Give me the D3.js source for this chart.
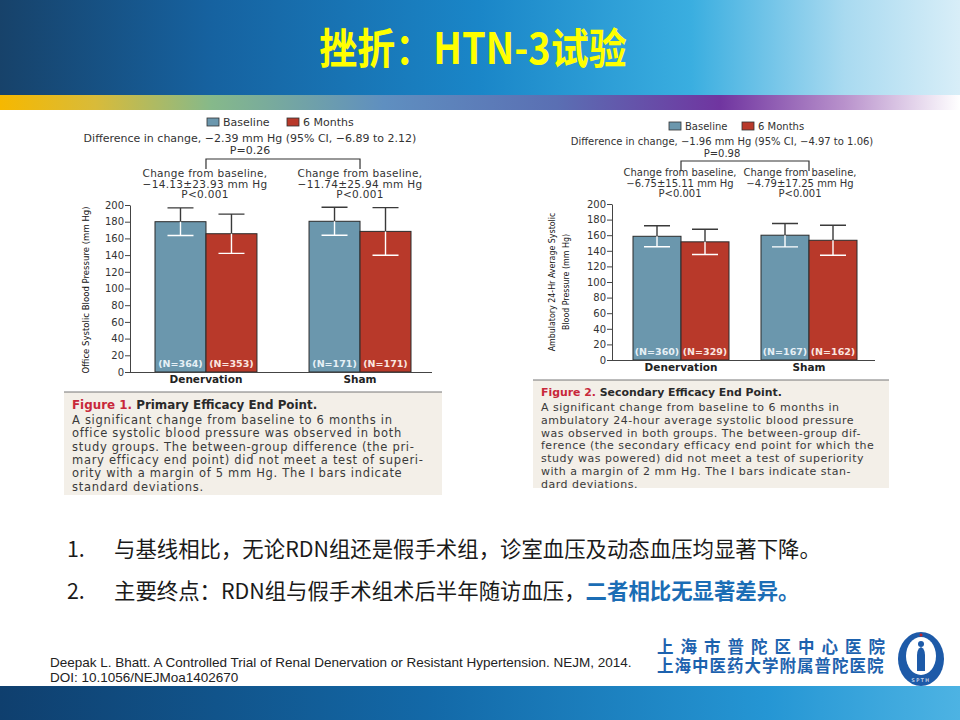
<!DOCTYPE html>
<html>
<head>
<meta charset="utf-8">
<script src="https://cdn.jsdelivr.net/npm/d3@7"></script>
<style>
  html, body { margin: 0; padding: 0; background: #fff; }
  svg { display: block; }
</style>
</head>
<body>
<div id="slide"></div>
<script>
// ---- data ----
const groups = ["Denervation", "Sham"];
const seriesNames = ["Baseline", "6 Months"];
const seriesColors = ["#6b97ad", "#b8392a"];
const yTicks = [0, 20, 40, 60, 80, 100, 120, 140, 160, 180, 200];

// Figure 1: office systolic BP (mm Hg)
const officeBaseline = [180.0, 180.5];
const officeBaselineSD = [16.5, 16.8];
const officeMonth6 = [165.6, 168.4];
const officeMonth6SD = [23.5, 28.5];
const officeN = [["(N=364)", "(N=353)"], ["(N=171)", "(N=171)"]];

// Figure 2: ambulatory 24-hr systolic BP (mm Hg)
const ambBaseline = [158.6, 160.0];
const ambBaselineSD = [13.5, 15.0];
const ambMonth6 = [151.5, 153.5];
const ambMonth6SD = [16.2, 19.3];
const ambN = [["(N=360)", "(N=329)"], ["(N=167)", "(N=162)"]];

const W = 960, H = 720;
const svg = d3.select("#slide").append("svg")
    .attr("width", W)
    .attr("height", H)
    .attr("viewBox", `0 0 ${W} ${H}`);

const defs = svg.append("defs");

// header gradient
const hg = defs.append("linearGradient").attr("id", "hdr").attr("x1", 0).attr("x2", 1).attr("y1", 0).attr("y2", 0);
[["0%", "#17426a"], ["22%", "#1662a0"], ["50%", "#1a86c8"], ["72%", "#3aaee0"], ["88%", "#a9daf0"], ["100%", "#d8eef8"]]
    .forEach(s => hg.append("stop").attr("offset", s[0]).attr("stop-color", s[1]));

const bg = defs.append("linearGradient").attr("id", "band").attr("x1", 0).attr("x2", 1).attr("y1", 0).attr("y2", 0);
[["0%", "#f6b800"], ["10%", "#d8bb3a"], ["22%", "#86b98a"], ["40%", "#5f8fc0"], ["58%", "#5a6fb3"], ["75%", "#7035a0"], ["88%", "#b992cc"], ["100%", "#ffffff"]]
    .forEach(s => bg.append("stop").attr("offset", s[0]).attr("stop-color", s[1]));

const fg = defs.append("linearGradient").attr("id", "ftr").attr("x1", 0).attr("x2", 1).attr("y1", 0).attr("y2", 0);
[["0%", "#0f3f6e"], ["45%", "#1369a8"], ["80%", "#2596d4"], ["100%", "#4db3e3"]]
    .forEach(s => fg.append("stop").attr("offset", s[0]).attr("stop-color", s[1]));

svg.append("rect").attr("x", 0).attr("y", 0).attr("width", W).attr("height", 96).attr("fill", "url(#hdr)");
svg.append("rect").attr("x", 0).attr("y", 95).attr("width", W).attr("height", 15).attr("fill", "url(#band)");
svg.append("rect").attr("x", 0).attr("y", 686).attr("width", W).attr("height", 34).attr("fill", "url(#ftr)");

svg.append("text")
    .attr("transform", "translate(473,64) scale(1,1.12)")
    .attr("text-anchor", "middle")
    .attr("font-family", "'Noto Sans CJK SC', sans-serif")
    .attr("font-weight", 700)
    .attr("font-size", 38)
    .attr("fill", "#ffff00")
    .text("挫折：HTN-3试验");

const figFont = "'DejaVu Sans', sans-serif";
const condFont = "'DejaVu Sans Condensed', 'Liberation Sans Narrow', sans-serif";

function drawPanel(cfg) {
    const g = svg.append("g");
    const y = d3.scaleLinear().domain([0, 200]).range([cfg.y0, cfg.y200]);
    const x0 = d3.scaleBand().domain(groups).range(cfg.barRange).paddingInner(cfg.padInner);
    const x1 = d3.scaleBand().domain(seriesNames).range([0, x0.bandwidth()]);

    // caption box
    g.append("rect").attr("x", cfg.capX).attr("y", cfg.capY).attr("width", cfg.capW).attr("height", cfg.capH).attr("fill", "#f3efe8");
    g.append("line").attr("x1", cfg.capX).attr("x2", cfg.capX + cfg.capW).attr("y1", cfg.capY).attr("y2", cfg.capY)
        .attr("stroke", "#777").attr("stroke-width", 1);

    // legend
    const lg = g.append("g").attr("font-family", figFont).attr("font-size", cfg.fs).attr("fill", "#333");
    seriesNames.forEach((s, i) => {
        lg.append("rect").attr("x", cfg.legX[i]).attr("y", cfg.legY - 8).attr("width", 12).attr("height", 8)
            .attr("fill", seriesColors[i]).attr("stroke", "#333").attr("stroke-width", 0.8);
        lg.append("text").attr("x", cfg.legX[i] + 16).attr("y", cfg.legY).text(s);
    });

    // difference text and bracket
    const ann = g.append("g").attr("font-family", figFont).attr("font-size", cfg.fs).attr("fill", "#333").attr("text-anchor", "middle");
    ann.append("text").attr("x", cfg.diffX).attr("y", cfg.diffY).text(cfg.diffText);
    ann.append("text").attr("x", cfg.diffX).attr("y", cfg.diffY + 11.5).text(cfg.diffP);
    const bx = groups.map(d => x0(d) + x0.bandwidth() / 2);
    g.append("path")
        .attr("d", `M${bx[0]},${cfg.brY + 10}V${cfg.brY}H${bx[1]}V${cfg.brY + 10}`)
        .attr("fill", "none").attr("stroke", "#333").attr("stroke-width", 1.2);
    groups.forEach((gr, i) => {
        cfg.changeText[i].forEach((t, j) => {
            ann.append("text").attr("x", cfg.changeX[i]).attr("y", cfg.changeY + j * 10.5)
                .attr("font-size", cfg.chFs).attr("letter-spacing", cfg.chLs).text(t);
        });
    });

    // bars
    const rows = [];
    groups.forEach((gr, i) => {
        seriesNames.forEach((s, j) => {
            rows.push({
                group: gr, series: s, j: j,
                mean: j === 0 ? cfg.base[i] : cfg.m6[i],
                sd: j === 0 ? cfg.baseSD[i] : cfg.m6SD[i],
                n: cfg.n[i][j]
            });
        });
    });

    const bars = g.append("g");
    bars.selectAll("rect").data(rows).enter().append("rect")
        .attr("x", d => x0(d.group) + x1(d.series))
        .attr("y", d => y(d.mean))
        .attr("width", x1.bandwidth())
        .attr("height", d => y(0) - y(d.mean))
        .attr("fill", d => seriesColors[d.j])
        .attr("stroke", "#2b2b2b")
        .attr("stroke-width", 1);

    const eb = g.append("g");
    rows.forEach(d => {
        const cx = x0(d.group) + x1(d.series) + x1.bandwidth() / 2;
        const cw = 13;
        eb.append("path")
            .attr("d", `M${cx},${y(d.mean)}V${y(d.mean + d.sd)}M${cx - cw},${y(d.mean + d.sd)}H${cx + cw}`)
            .attr("stroke", "#3a3a3a").attr("stroke-width", 1.4).attr("fill", "none");
        eb.append("path")
            .attr("d", `M${cx},${y(d.mean)}V${y(d.mean - d.sd)}M${cx - cw},${y(d.mean - d.sd)}H${cx + cw}`)
            .attr("stroke", "#ffffff").attr("stroke-width", 1.4).attr("fill", "none");
        eb.append("text")
            .attr("x", cx).attr("y", y(0) - 5)
            .attr("text-anchor", "middle")
            .attr("font-family", figFont).attr("font-size", 9.5).attr("font-weight", 700)
            .attr("fill", d.j === 0 ? "#e6f0f6" : "#fbe6e0")
            .text(d.n);
    });

    // axes
    const ya = g.append("g").attr("transform", `translate(${cfg.axisX},0)`)
        .call(d3.axisLeft(y).tickValues(yTicks).tickSize(5).tickSizeOuter(0).tickPadding(1));
    ya.select(".domain").attr("stroke", "#444");
    ya.selectAll(".tick line").attr("stroke", "#444");
    ya.selectAll(".tick text").attr("font-family", figFont).attr("font-size", 10).attr("fill", "#333");

    const xa = g.append("g").attr("transform", `translate(0,${cfg.y0})`)
        .call(d3.axisBottom(x0).tickSize(0).tickPadding(4));
    xa.select(".domain").attr("d", `M${cfg.axisX},0.5H${cfg.axisEnd}`).attr("stroke", "#444");
    xa.selectAll(".tick text").attr("font-family", figFont).attr("font-size", 10.5).attr("font-weight", 700).attr("fill", "#222");

    // y label
    const yl = g.append("text")
        .attr("transform", `translate(${cfg.yLabX},${cfg.yLabY}) rotate(-90)`)
        .attr("text-anchor", "middle")
        .attr("font-family", condFont).attr("font-size", cfg.yLabFs).attr("fill", "#111");
    cfg.yLabel.forEach((t, i) => {
        yl.append("tspan").attr("x", 0).attr("dy", i === 0 ? 0 : 14).text(t);
    });

    // caption text
    const cap = g.append("text")
        .attr("font-family", figFont).attr("font-size", cfg.capTitleFs).attr("fill", "#3a3a3a");
    cap.append("tspan").attr("x", cfg.capX + 8).attr("y", cfg.capTextY)
        .attr("font-weight", 700).attr("fill", "#c8283a").text(cfg.figNum);
    cap.append("tspan").attr("font-weight", 700).attr("fill", "#2a2a2a").text(cfg.figTitle);
    cfg.capLines.forEach((t, i) => {
        g.append("text")
            .attr("x", cfg.capX + 8).attr("y", cfg.capTextY + cfg.capGap + i * cfg.capStep)
            .attr("font-family", figFont).attr("font-size", cfg.capFont)
            .attr("letter-spacing", cfg.capLs).attr("fill", "#3a3a3a")
            .text(t);
    });
}

drawPanel({
    y0: 372, y200: 205, barRange: [155, 411], padInner: 0.338, axisX: 130, axisEnd: 432,
    base: officeBaseline, baseSD: officeBaselineSD, m6: officeMonth6, m6SD: officeMonth6SD, n: officeN,
    fs: 11, chFs: 10.5, chLs: 0.3,
    legX: [207, 287], legY: 126,
    diffX: 250, diffY: 142, diffText: "Difference in change, −2.39  mm Hg (95% CI, −6.89 to 2.12)", diffP: "P=0.26",
    brY: 159,
    changeX: [205, 360], changeY: 177,
    changeText: [["Change from baseline,", "−14.13±23.93 mm Hg", "P<0.001"], ["Change from baseline,", "−11.74±25.94 mm Hg", "P<0.001"]],
    yLabX: 89, yLabY: 290, yLabFs: 9.5, yLabel: ["Office Systolic Blood Pressure (mm Hg)"],
    capX: 64, capY: 392, capW: 378, capH: 103, capTextY: 409,
    capTitleFs: 11.9, capFont: 11.5, capLs: 0.7, capGap: 15, capStep: 13.3,
    figNum: "Figure 1. ", figTitle: "Primary Efficacy End Point.",
    capLines: [
        "A significant change from baseline to 6 months in",
        "office systolic blood pressure was observed in both",
        "study groups. The between-group difference (the pri-",
        "mary efficacy end point) did not meet a test of superi-",
        "ority with a margin of 5 mm Hg. The I bars indicate",
        "standard deviations."
    ]
});

drawPanel({
    y0: 360, y200: 204, barRange: [633, 857], padInner: 0.25, axisX: 612, axisEnd: 875,
    base: ambBaseline, baseSD: ambBaselineSD, m6: ambMonth6, m6SD: ambMonth6SD, n: ambN,
    fs: 10, chFs: 10, chLs: 0,
    legX: [669, 742], legY: 130,
    diffX: 722, diffY: 145, diffText: "Difference in change, −1.96 mm Hg (95% CI, −4.97 to 1.06)", diffP: "P=0.98",
    brY: 161,
    changeX: [680, 800], changeY: 176,
    changeText: [["Change from baseline,", "−6.75±15.11 mm Hg", "P<0.001"], ["Change from baseline,", "−4.79±17.25 mm Hg", "P<0.001"]],
    yLabX: 555, yLabY: 282, yLabFs: 8.8, yLabel: ["Ambulatory 24-Hr Average Systolic", "Blood Pressure (mm Hg)"],
    capX: 533, capY: 380, capW: 356, capH: 108, capTextY: 396,
    capTitleFs: 10.9, capFont: 11, capLs: 0.5, capGap: 15, capStep: 12.8,
    figNum: "Figure 2. ", figTitle: "Secondary Efficacy End Point.",
    capLines: [
        "A significant change from baseline to 6 months in",
        "ambulatory 24-hour average systolic blood pressure",
        "was observed in both groups. The between-group dif-",
        "ference (the secondary efficacy end point for which the",
        "study was powered) did not meet a test of superiority",
        "with a margin of 2 mm Hg. The I bars indicate stan-",
        "dard deviations."
    ]
});

// bullet points
const cjk = "'Noto Sans CJK SC', sans-serif";
const b1 = svg.append("g").attr("font-family", cjk).attr("font-size", 21.4).attr("fill", "#1a1a1a");
b1.append("text").attr("x", 67).attr("y", 557).text("1.");
b1.append("text").attr("x", 114).attr("y", 557).text("与基线相比，无论RDN组还是假手术组，诊室血压及动态血压均显著下降。");
b1.append("text").attr("x", 67).attr("y", 599).text("2.");
const t2 = b1.append("text").attr("x", 114).attr("y", 599);
t2.append("tspan").text("主要终点：RDN组与假手术组术后半年随访血压，");
t2.append("tspan").attr("font-weight", 700).attr("fill", "#1b6db5").text("二者相比无显著差异。");

// citation
const cit = svg.append("g").attr("font-family", "'Liberation Sans', Arial, sans-serif").attr("font-size", 13.5).attr("fill", "#222");
cit.append("text").attr("x", 50).attr("y", 667).text("Deepak L. Bhatt. A Controlled Trial of Renal Denervation or Resistant Hypertension. NEJM, 2014.");
cit.append("text").attr("x", 50).attr("y", 682).text("DOI: 10.1056/NEJMoa1402670");

// hospital name
const hosp = svg.append("g").attr("font-family", cjk).attr("font-weight", 700).attr("fill", "#1d62ae");
hosp.append("text").attr("x", 657).attr("y", 653).attr("font-size", 16.5).attr("letter-spacing", 7).text("上海市普陀区中心医院");
hosp.append("text").attr("x", 657).attr("y", 672).attr("font-size", 16.5).attr("letter-spacing", 1).text("上海中医药大学附属普陀医院");

// logo
const logo = svg.append("g").attr("transform", "translate(921,659)");
logo.append("ellipse").attr("rx", 23).attr("ry", 27).attr("fill", "#1d5aa8");
logo.append("ellipse").attr("cx", 0).attr("cy", -3).attr("rx", 15).attr("ry", 19).attr("fill", "#fff");
logo.append("path").attr("d", "M-4,12 L-4,-4 Q-4,-10 0,-12 Q4,-10 4,-4 L4,12 Z").attr("fill", "#1d5aa8");
logo.append("circle").attr("cx", 0).attr("cy", -15).attr("r", 3).attr("fill", "#1d5aa8");
logo.append("path").attr("d", "M-1.5,-24H1.5M0,-25.5V-22.5").attr("stroke", "#d02020").attr("stroke-width", 1.5);
logo.append("text").attr("y", 23).attr("text-anchor", "middle").attr("font-family", "'DejaVu Sans', sans-serif")
    .attr("font-size", 5).attr("fill", "#fff").attr("letter-spacing", 1.5).text("SPTH");
</script>
</body>
</html>
